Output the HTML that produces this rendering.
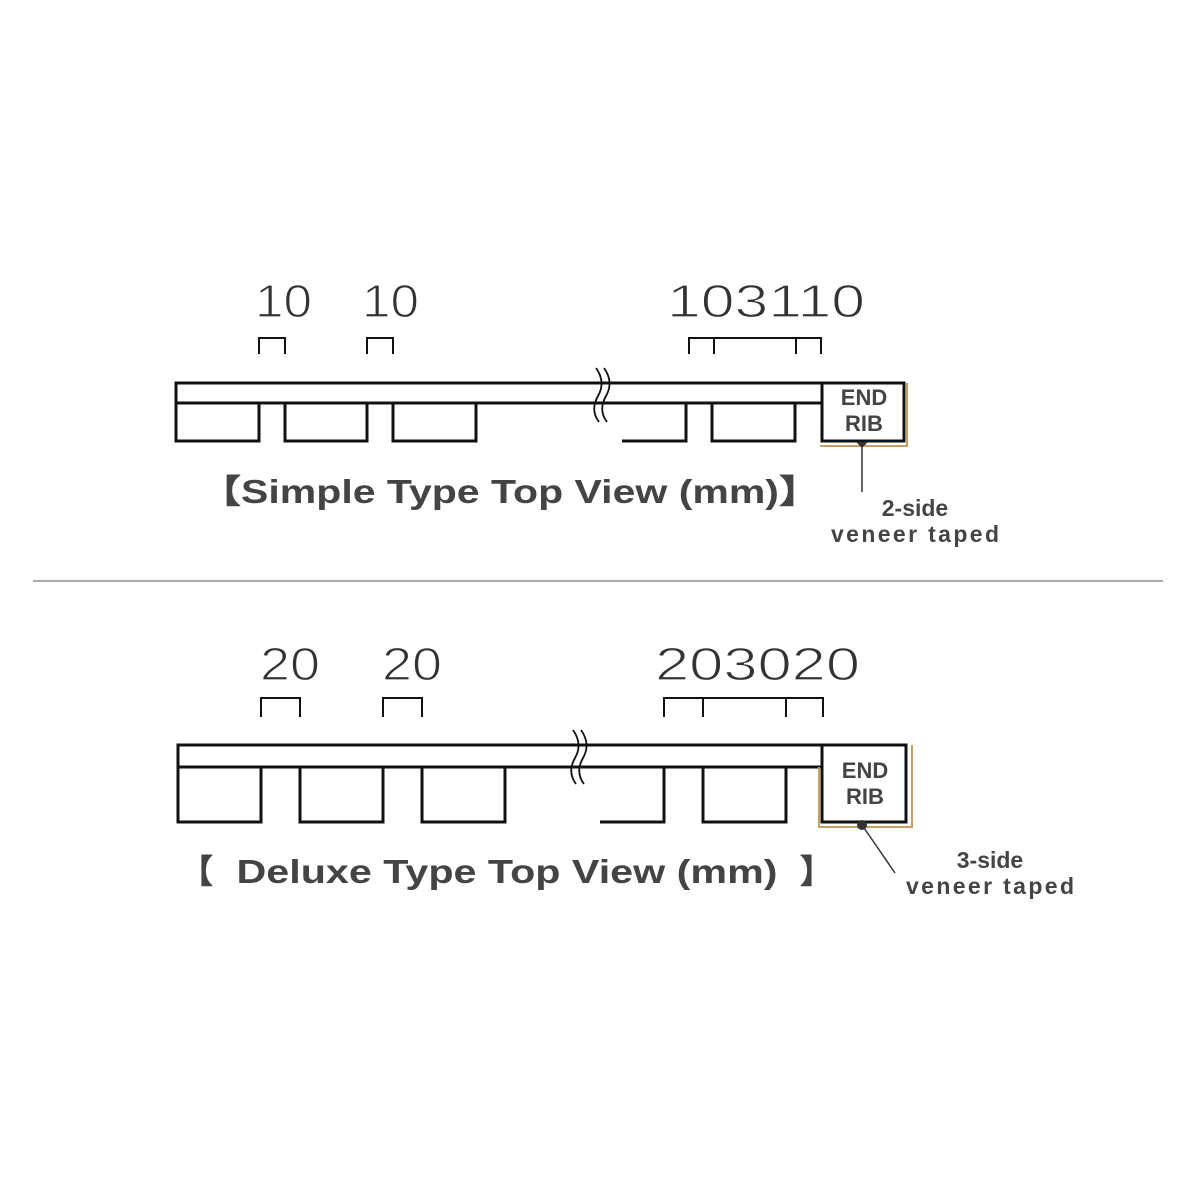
<!DOCTYPE html>
<html><head><meta charset="utf-8"><style>
html,body{margin:0;padding:0;background:#fff;}
svg{display:block}
.n{font-family:"Liberation Sans",sans-serif;font-size:46px;fill:#333;font-weight:normal;stroke:#fff;stroke-width:1.2px}
.t{font-family:"Liberation Sans",sans-serif;font-size:33px;fill:#444;font-weight:bold}
.s{font-family:"Liberation Sans",sans-serif;font-size:23px;fill:#444;font-weight:bold}
.e{font-family:"Liberation Sans",sans-serif;font-size:22px;fill:#444;font-weight:bold}
</style></head><body>
<svg width="1200" height="1200" viewBox="0 0 1200 1200" xmlns="http://www.w3.org/2000/svg">
<g fill="none" stroke="#111" stroke-width="3">
<rect x="176" y="383" width="646" height="20"/>
<rect x="176" y="403" width="83" height="38"/>
<rect x="285" y="403" width="82" height="38"/>
<rect x="393" y="403" width="83" height="38"/>
<polyline points="622,403 686,403 686,441 622,441"/>
<rect x="712" y="403" width="83" height="38"/>
<rect x="822" y="383" width="82" height="58"/>
<path d="M259 354V338H285V354M367 354V338H393V354M689 354V338H821V354M714 338V354M796 338V354" stroke-width="2"/>
<rect x="178" y="745" width="644" height="22"/>
<rect x="178" y="767" width="83" height="55"/>
<rect x="300" y="767" width="83" height="55"/>
<rect x="422" y="767" width="83" height="55"/>
<polyline points="600,767 664,767 664,822 600,822"/>
<rect x="703" y="767" width="83" height="55"/>
<rect x="822" y="745" width="84" height="77"/>
<path d="M261 717V698H300V717M383 717V698H422V717M664 717V698H823V717M703 698V717M786 698V717" stroke-width="2"/>
</g>
<g fill="none" stroke="#111" stroke-width="1.8">
<path d="M596 368 Q606 382 598 396 Q590 410 599 422"/>
<path d="M604 368 Q614 382 606 396 Q598 410 607 422"/>
<path d="M573 730 Q583 744 575 758 Q567 772 576 784"/>
<path d="M581 730 Q591 744 583 758 Q575 772 584 784"/>
</g>
<g fill="none" stroke="#c9a063" stroke-width="2">
<polyline points="820,446 907,446 907,383"/>
<polyline points="819,767 819,827 912,827 912,745"/>
</g>
<line x1="862" y1="444" x2="862" y2="492" stroke="#333" stroke-width="1.5"/>
<path d="M856 442 H868 L862 448 Z" fill="#333"/>
<line x1="862" y1="825" x2="895" y2="873" stroke="#333" stroke-width="1.5"/>
<circle cx="862" cy="825" r="5" fill="#333"/>
<line x1="33" y1="581" x2="1163" y2="581" stroke="#777" stroke-width="1.2"/>
<text class="n" x="255" y="317" textLength="57" lengthAdjust="spacingAndGlyphs">10</text>
<text class="n" x="362" y="317" textLength="57" lengthAdjust="spacingAndGlyphs">10</text>
<text class="n" x="667" y="317" textLength="198" lengthAdjust="spacingAndGlyphs">103110</text>
<text class="n" x="260" y="680" textLength="60" lengthAdjust="spacingAndGlyphs">20</text>
<text class="n" x="382" y="680" textLength="60" lengthAdjust="spacingAndGlyphs">20</text>
<text class="n" x="655" y="680" textLength="205" lengthAdjust="spacingAndGlyphs">203020</text>
<text class="e" x="864" y="405" text-anchor="middle">END</text>
<text class="e" x="864" y="431" text-anchor="middle">RIB</text>
<text class="e" x="865" y="778" text-anchor="middle">END</text>
<text class="e" x="865" y="804" text-anchor="middle">RIB</text>
<text class="t" x="200" y="503" textLength="620" lengthAdjust="spacingAndGlyphs">【Simple Type Top View (mm)】</text>
<text class="t" x="180" y="883" textLength="28">【</text>
<text class="t" x="507" y="883" text-anchor="middle" textLength="541" lengthAdjust="spacingAndGlyphs">Deluxe Type Top View (mm)</text>
<text class="t" x="800" y="883">】</text>
<text class="s" x="915" y="516" text-anchor="middle">2-side</text>
<text class="s" x="915" y="542" text-anchor="middle" textLength="168">veneer taped</text>
<text class="s" x="990" y="868" text-anchor="middle">3-side</text>
<text class="s" x="990" y="894" text-anchor="middle" textLength="168">veneer taped</text>
</svg>
</body></html>
